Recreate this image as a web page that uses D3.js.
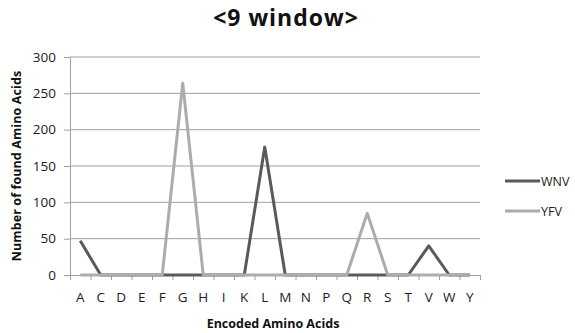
<!DOCTYPE html>
<html>
<head>
<meta charset="utf-8">
<script src="https://cdn.jsdelivr.net/npm/d3@7"></script>
<style>
  body { margin: 0; background: #fff; }
  text { font-family: "Open Sans", "Liberation Sans", sans-serif; }
</style>
</head>
<body>
<div id="chart"></div>
<script>
// categories and series
var aminoAcids = ["A","C","D","E","F","G","H","I","K","L","M","N","P","Q","R","S","T","V","W","Y"];
var wnvValues = [47,0,0,0,0,0,0,0,0,176,0,0,0,0,0,0,0,40,0,0];
var yfvValues = [0,0,0,0,0,264,0,0,0,0,0,0,0,0,85,0,0,0,0,0];
var yTicks = [0,50,100,150,200,250,300];
var seriesNames = ["WNV","YFV"];

var width = 575, height = 333;
var margin = {top: 57, right: 95, bottom: 58, left: 70};

var c_wnv = "#5a5a5a", c_yfv = "#acacac", c_grid = "#a0a0a0";

var svg = d3.select("#chart").append("svg")
    .attr("width", width)
    .attr("height", height);

var x_band = d3.scaleBand()
    .domain(aminoAcids)
    .range([margin.left, width - margin.right]);

var x_edges = d3.scaleLinear()
    .domain([0, aminoAcids.length])
    .range([margin.left, width - margin.right]);

var y_scale = d3.scaleLinear()
    .domain([0, 300])
    .range([height - margin.bottom, margin.top]);

// gridlines + y axis
var yAxis = svg.append("g")
    .attr("transform", "translate(" + margin.left + ",0)")
    .call(d3.axisLeft(y_scale).tickValues(yTicks).tickSize(6).tickPadding(8))
yAxis.select(".domain").attr("stroke", c_grid)
yAxis.selectAll(".tick line").attr("stroke", c_grid)
yAxis.selectAll(".tick text")
    .attr("font-size", 13.5)
    .attr("fill", "#1a1a1a")

svg.append("g").selectAll("line")
    .data(yTicks.filter(function(d){ return d > 0 }))
    .enter().append("line")
    .attr("x1", margin.left)
    .attr("x2", width - margin.right)
    .attr("y1", function(d){ return y_scale(d) })
    .attr("y2", function(d){ return y_scale(d) })
    .attr("stroke", c_grid)
    .attr("stroke-width", 1)

// x axis: ticks between categories
var xAxis = svg.append("g")
    .attr("transform", "translate(0," + y_scale(0) + ")")
    .call(d3.axisBottom(x_edges).tickValues(d3.range(aminoAcids.length + 1)).tickFormat("").tickSize(5))
xAxis.select(".domain").attr("stroke", c_grid)
xAxis.selectAll(".tick line").attr("stroke", c_grid)

var xLabels = svg.append("g")
    .attr("transform", "translate(0," + y_scale(0) + ")")
    .call(d3.axisBottom(x_band).tickSize(0).tickPadding(17))
xLabels.select(".domain").remove()
xLabels.selectAll(".tick text")
    .attr("font-size", 13.5)
    .attr("fill", "#1a1a1a")

var plot_line = d3.line()
    .x(function(d, i) { return x_band(aminoAcids[i]) + x_band.bandwidth() / 2 })
    .y(function(d) { return y_scale(d) })

svg.append("path")
    .datum(wnvValues)
    .attr("d", plot_line)
    .attr("fill", "none")
    .attr("stroke", c_wnv)
    .attr("stroke-width", 3)
    .attr("stroke-linejoin", "round")

svg.append("path")
    .datum(yfvValues)
    .attr("d", plot_line)
    .attr("fill", "none")
    .attr("stroke", c_yfv)
    .attr("stroke-width", 3)
    .attr("stroke-linejoin", "round")

// title
svg.append("text")
    .attr("x", 286)
    .attr("y", 26)
    .attr("text-anchor", "middle")
    .attr("font-size", 23)
    .attr("font-weight", "bold")
    .attr("letter-spacing", 1)
    .attr("fill", "#111")
    .text("<9 window>")

// axis titles
svg.append("text")
    .attr("x", 273)
    .attr("y", 328)
    .attr("text-anchor", "middle")
    .attr("font-size", 12.5)
    .attr("font-weight", "bold")
    .attr("fill", "#111")
    .text("Encoded Amino Acids")

svg.append("text")
    .attr("transform", "translate(21,166) rotate(-90)")
    .attr("text-anchor", "middle")
    .attr("font-size", 12.5)
    .attr("font-weight", "bold")
    .attr("letter-spacing", 0.1)
    .attr("fill", "#111")
    .text("Number of found Amino Acids")

// legend
var legend = svg.append("g").selectAll("g")
    .data(seriesNames)
    .enter().append("g")
    .attr("transform", function(d, i){ return "translate(505," + (181 + i * 30) + ")" })
legend.append("line")
    .attr("x1", 0).attr("x2", 35)
    .attr("stroke", function(d, i){ return i == 0 ? c_wnv : c_yfv })
    .attr("stroke-width", 3)
legend.append("text")
    .attr("x", 36)
    .attr("y", 4.5)
    .attr("font-size", 12.5)
    .attr("fill", "#1a1a1a")
    .text(function(d){ return d })
</script>
</body>
</html>
